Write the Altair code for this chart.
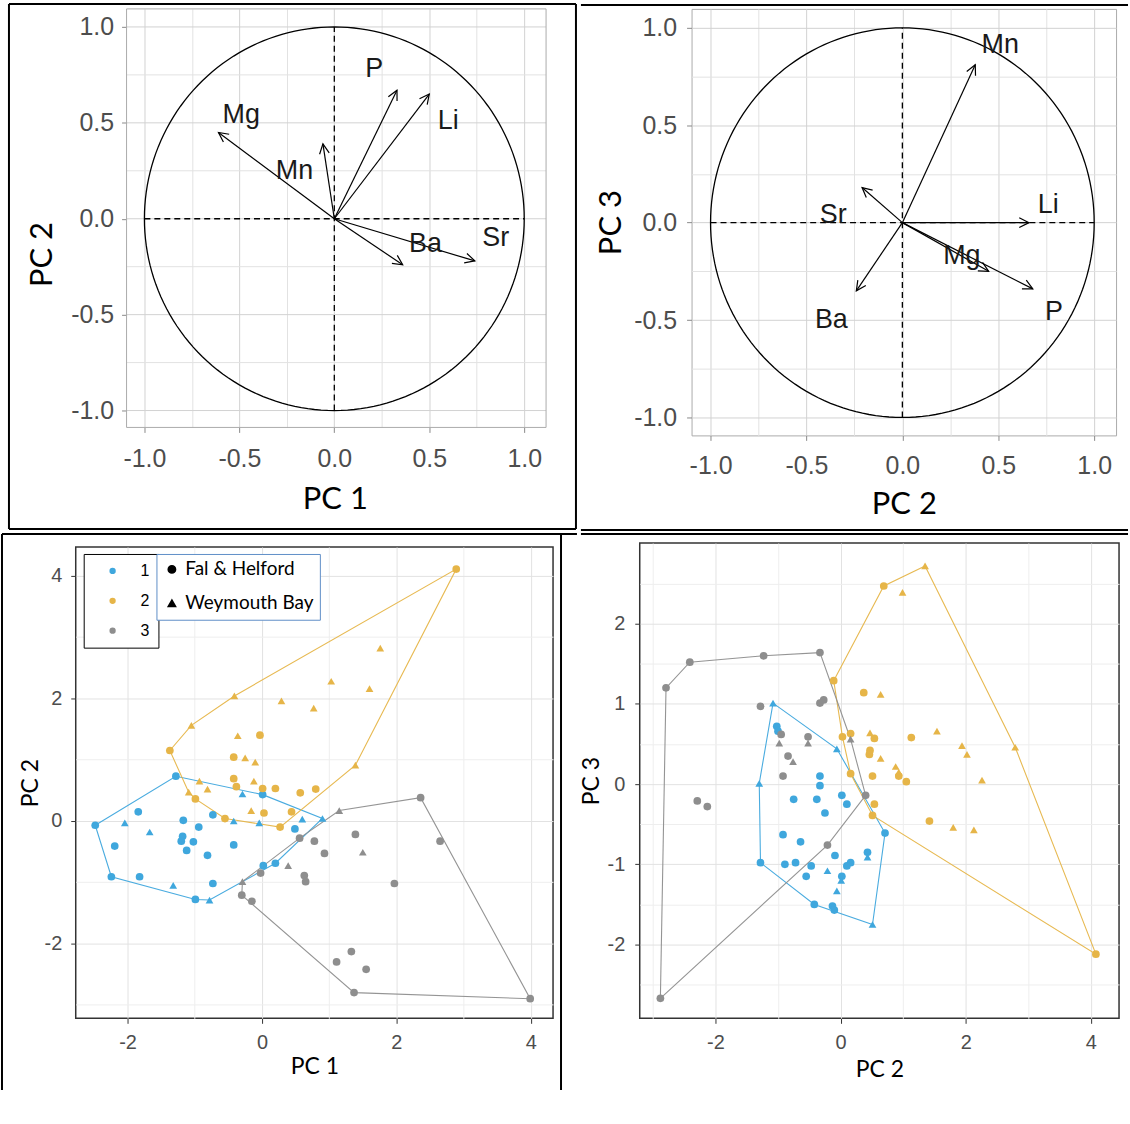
import altair as alt
import pandas as pd

# ---------------- data ----------------
A_VARS = ["Mg", "Mn", "P", "Li", "Ba", "Sr"]
A_PC1 = [-0.61, -0.06, 0.33, 0.50, 0.36, 0.74]
A_PC2 = [0.45, 0.39, 0.67, 0.65, -0.24, -0.22]
A_LAB_X = [-0.49, -0.21, 0.21, 0.60, 0.48, 0.85]
A_LAB_Y = [0.54, 0.25, 0.78, 0.51, -0.13, -0.10]

B_VARS = ["Mn", "Sr", "Li", "Mg", "P", "Ba"]
B_PC2 = [0.38, -0.21, 0.66, 0.45, 0.68, -0.24]
B_PC3 = [0.81, 0.18, 0.00, -0.25, -0.34, -0.35]
B_LAB_X = [0.51, -0.36, 0.76, 0.31, 0.79, -0.37]
B_LAB_Y = [0.91, 0.04, 0.09, -0.17, -0.46, -0.50]

CLUSTERS = ["1", "2", "3"]
HULL_KEYS = ["h1", "h2", "h3"]
SITES = ["Fal & Helford", "Weymouth Bay"]

C1_CIRC_X = [-2.48, -2.24, -2.19, -1.84, -1.82, -1.28, -1.17, -1.18, -1.20, -1.12, -1.02, -0.94, -0.99, -0.81, -0.73, -0.73, -0.42, 0.01, 0.02, 0.20, 0.49]
C1_CIRC_Y = [-0.07, -0.91, -0.41, 0.15, -0.91, 0.73, 0.01, -0.25, -0.33, -0.48, -0.34, -0.10, -1.28, -0.56, 0.10, -1.02, -0.39, 0.43, -0.73, -0.69, -0.13]
C1_TRI_X = [-2.04, -1.67, -1.32, -0.78, -0.42, -0.29, -0.04, 0.60, 0.90]
C1_TRI_Y = [-0.03, -0.18, -1.05, -1.29, 0.00, 0.44, -0.03, 0.03, 0.04]
C2_CIRC_X = [-1.37, -0.99, -0.55, -0.42, -0.42, -0.38, -0.03, 0.01, 0.03, 0.20, 0.27, 0.44, 0.57, 0.80, 2.89]
C2_CIRC_Y = [1.15, 0.36, 0.04, 1.04, 0.69, 0.56, 1.40, 0.53, 0.13, 0.53, -0.10, 0.15, 0.46, 0.52, 4.11]
C2_TRI_X = [-1.05, -1.09, -0.93, -0.81, -0.41, -0.36, -0.25, -0.10, -0.12, -0.16, 0.29, 0.77, 1.03, 1.60, 1.76, 1.39]
C2_TRI_Y = [1.56, 0.47, 0.65, 0.52, 2.04, 1.39, 1.03, 0.96, 0.65, 0.17, 1.96, 1.84, 2.28, 2.16, 2.82, 0.91]
C3_CIRC_X = [0.56, 0.78, 0.93, 0.63, 0.65, -0.02, -0.30, -0.15, 1.39, 2.36, 2.65, 1.97, 1.11, 1.33, 1.55, 1.37, 3.99]
C3_CIRC_Y = [-0.28, -0.33, -0.53, -0.89, -0.99, -0.85, -1.21, -1.31, -0.22, 0.38, -0.33, -1.02, -2.30, -2.13, -2.42, -2.80, -2.90]
C3_TRI_X = [-0.29, 0.39, 1.15, 1.50]
C3_TRI_Y = [-0.99, -0.73, 0.17, -0.51]

D1_CIRC_X = [-1.02, -1.00, -0.33, -0.33, -0.75, -0.38, 0.02, 0.10, -0.25, -0.92, -0.64, -1.28, -0.89, -0.72, -0.47, -0.55, -0.09, 0.16, 0.10, 0.02, -0.42, -0.13, -0.10, 0.43, 0.71]
D1_CIRC_Y = [0.72, 0.66, 0.10, -0.02, -0.19, -0.19, -0.14, -0.25, -0.36, -0.63, -0.72, -0.98, -1.00, -0.98, -1.02, -1.15, -0.89, -0.98, -1.02, -1.15, -1.50, -1.52, -1.57, -0.85, -0.61]
D1_TRI_X = [-1.08, -1.30, -0.06, 0.43, -0.21, 0.01, -0.06, 0.51]
D1_TRI_Y = [1.01, 0.01, 0.44, -0.91, -1.08, -1.20, -1.33, -1.75]
D2_CIRC_X = [0.69, -0.11, 0.37, 0.03, 0.16, 0.54, 0.47, 0.46, 1.13, 0.16, 0.51, 0.93, 1.05, 0.54, 0.51, 1.42, 4.08]
D2_CIRC_Y = [2.47, 1.29, 1.14, 0.59, 0.63, 0.57, 0.42, 0.37, 0.58, 0.13, 0.10, 0.10, 0.03, -0.25, -0.39, -0.46, -2.12]
D2_TRI_X = [1.35, 0.99, 0.64, 0.47, 1.54, 1.94, 2.02, 2.79, 0.64, 0.88, 0.93, 2.26, 1.80, 2.13]
D2_TRI_Y = [2.72, 2.39, 1.12, 0.64, 0.66, 0.48, 0.37, 0.46, 0.32, 0.22, 0.15, 0.05, -0.54, -0.57]
D3_CIRC_X = [-2.88, -2.79, -2.41, -1.23, -0.33, -1.28, -0.33, -0.27, -0.95, -0.52, -0.84, -0.92, -2.29, -2.13, 0.40, -0.21]
D3_CIRC_Y = [-2.67, 1.20, 1.52, 1.60, 1.64, 0.97, 1.01, 1.05, 0.62, 0.59, 0.35, 0.10, -0.21, -0.28, -0.14, -0.76]
D3_TRI_X = [-0.98, -0.52, -0.76, 0.16]
D3_TRI_Y = [0.51, 0.51, 0.28, 0.56]

TOP_TICKS = [-1.0, -0.75, -0.5, -0.25, 0.0, 0.25, 0.5, 0.75, 1.0]
C_X_TICKS = [-2, -1, 0, 1, 2, 3, 4]
C_Y_TICKS = [-3, -2, -1, 0, 1, 2, 3, 4]
D_X_TICKS = [-3, -2, -1, 0, 1, 2, 3, 4]
D_Y_TICKS = [-2.5, -2, -1.5, -1, -0.5, 0, 0.5, 1, 1.5, 2, 2.5]

CL_COLORS = ["#3FA7DD", "#E6B548", "#8E8E8E"]

# ---------------- helpers ----------------
ONE = pd.DataFrame({"k": [0]})
ARROW = "M-0.5,1L0,0L0.5,1"


def prule(x1, y1, x2, y2, w=2.0):
    return alt.Chart(ONE).mark_rule(color="black", strokeWidth=w, strokeCap="butt").encode(
        x=alt.value(x1), x2=alt.value(x2), y=alt.value(y1), y2=alt.value(y2))


def make_axis(title, values, major_test, label_expr, tick_col, grid_major, grid_minor,
              label_size, label_pad, title_size, title_pad, is_y, grid=True, offset=0,
              title_xy=None):
    kw = dict(
        title=title, values=values, labelExpr=label_expr,
        tickColor={"condition": {"test": major_test, "value": tick_col}, "value": "transparent"},
        grid=grid, domain=False, tickSize=5, tickWidth=1,
        labelFont="Liberation Sans", labelFontSize=label_size, labelColor="#4d4d4d",
        labelPadding=label_pad, labelOverlap=False, labelFlush=False,
        titleFont="Lato", titleFontSize=title_size, titleColor="black", titleFontWeight="normal",
        titlePadding=title_pad,
    )
    if grid:
        kw["gridColor"] = {"condition": {"test": major_test, "value": grid_major},
                           "value": grid_minor}
        kw["gridWidth"] = 1
    if offset:
        kw["offset"] = offset
    if title_xy is not None:
        kw["titleX"] = title_xy[0]
        kw["titleY"] = title_xy[1]
        kw["titleAlign"] = "center"
        kw["titleBaseline"] = "middle"
        if is_y:
            kw["titleAngle"] = 270
    if not is_y:
        kw["labelBaseline"] = "middle"
    return alt.Axis(**kw)


TOP_TEST = "abs(datum.value*2 - round(datum.value*2)) < 0.001"
TOP_LABEL = TOP_TEST + " ? (datum.value < 0 ? '-' : '') + format(abs(datum.value), '.1f') : ''"
EVEN_TEST = "abs(datum.value % 2) < 0.001"
EVEN_LABEL = EVEN_TEST + " ? (datum.value < 0 ? '-' : '') + format(abs(datum.value), 'd') : ''"
INT_TEST = "abs(datum.value - round(datum.value)) < 0.001"
INT_LABEL = INT_TEST + " ? (datum.value < 0 ? '-' : '') + format(abs(datum.value), 'd') : ''"


def loading_panel(vars_, xs, ys, lx, ly, xdom, ydom, w, h, xt, yt, xtpad, ytpad,
                  xpad, ypad, frames, ext=0, xtitle_xy=None, ytitle_xy=None):
    df = pd.DataFrame({"v": vars_, "xe": xs, "ye": ys, "lx": lx, "ly": ly})
    # ext: blank pixels added on the left of the view (axis is shifted back by ext)
    x_lo = xdom[0] - ext * (xdom[1] - xdom[0]) / w
    xsc = alt.Scale(domain=[x_lo, xdom[1]], nice=False, zero=False)
    ysc = alt.Scale(domain=ydom, nice=False, zero=False)
    xax = make_axis(xt, TOP_TICKS, TOP_TEST, TOP_LABEL, "#8a8a8a", "#d2d2d2", "#e2e2e2",
                    25, xpad, 31, xtpad, False, title_xy=xtitle_xy)
    yax = make_axis(yt, TOP_TICKS, TOP_TEST, TOP_LABEL, "#8a8a8a", "#d2d2d2", "#e2e2e2",
                    25, ypad, 31, ytpad, True, grid=(ext == 0), offset=-ext,
                    title_xy=ytitle_xy)

    def X(f):
        return alt.X(f, type="quantitative", scale=xsc, axis=xax)

    def Y(f):
        return alt.Y(f, type="quantitative", scale=ysc, axis=yax)

    layers = list(frames)
    if ext:
        gdf = pd.DataFrame({"gy": TOP_TICKS, "gx1": [xdom[0]] * len(TOP_TICKS),
                            "gx2": [xdom[1]] * len(TOP_TICKS),
                            "major": [abs(v * 2 - round(v * 2)) < 1e-9 for v in TOP_TICKS]})
        layers.append(alt.Chart(gdf).mark_rule(strokeWidth=1).encode(
            x=X("gx1"), x2="gx2:Q", y=Y("gy"),
            color=alt.condition("datum.major", alt.value("#d2d2d2"), alt.value("#e2e2e2"))))
        bdf = pd.DataFrame({"bx1": [xdom[0]], "bx2": [xdom[1]],
                            "by1": [ydom[0]], "by2": [ydom[1]]})
        layers.append(alt.Chart(bdf).mark_rect(fillOpacity=0, stroke="#ababab",
                                                strokeWidth=1).encode(
            x=X("bx1"), x2="bx2:Q", y=Y("by1"), y2="by2:Q"))

    circle = alt.Chart(alt.sequence(0, 362, 2, as_="t")).transform_calculate(
        cx="cos(datum.t*PI/180)", cy="sin(datum.t*PI/180)"
    ).mark_line(color="black", strokeWidth=1.3).encode(x=X("cx"), y=Y("cy"), order="t:Q")

    vdash = alt.Chart(ONE).transform_calculate(a="0", b="-1", c="1").mark_rule(
        color="black", strokeWidth=1.3, strokeDash=[6, 4]).encode(x=X("a"), y=Y("b"), y2="c:Q")
    hdash = alt.Chart(ONE).transform_calculate(a="0", b="-1", c="1").mark_rule(
        color="black", strokeWidth=1.3, strokeDash=[6, 4]).encode(x=X("b"), x2="c:Q", y=Y("a"))

    arrows = alt.Chart(df).transform_calculate(o="0").mark_rule(
        color="black", strokeWidth=1.2).encode(x=X("o"), y=Y("o"), x2="xe:Q", y2="ye:Q")
    heads = alt.Chart(df).transform_calculate(
        ang="(atan2(datum.xe, datum.ye)*180/PI + 360) % 360"
    ).mark_point(shape=ARROW, size=380, filled=False, color="black", strokeWidth=1.2,
                 opacity=1).encode(x=X("xe"), y=Y("ye"), angle=alt.Angle("ang:Q", scale=None))
    labels = alt.Chart(df).mark_text(
        font="Liberation Sans", fontSize=27, color="#1a1a1a", align="center", baseline="middle"
    ).encode(x=X("lx"), y=Y("ly"), text="v:N")

    layers += [circle, vdash, hdash, arrows, heads, labels]
    view = (alt.ViewBackground(stroke="transparent") if ext
            else alt.ViewBackground(stroke="#ababab", strokeWidth=1))
    return alt.layer(*layers).properties(width=w + ext, height=h, view=view)


def hull(xs, ys):
    pts = sorted(set(zip(xs, ys)))

    def cross(o, a, b):
        return (a[0] - o[0]) * (b[1] - o[1]) - (a[1] - o[1]) * (b[0] - o[0])

    lower, upper = [], []
    for p in pts:
        while len(lower) >= 2 and cross(lower[-2], lower[-1], p) <= 0:
            lower.pop()
        lower.append(p)
    for p in reversed(pts):
        while len(upper) >= 2 and cross(upper[-2], upper[-1], p) <= 0:
            upper.pop()
        upper.append(p)
    h = lower[:-1] + upper[:-1]
    return h + [h[0]]


def score_panel(groups, xdom, ydom, xvals, yvals, xtest, xlab, ytest, ylab, w, h,
                xt, yt, xtpad, ytpad, xpad, ypad, frames, with_legend):
    rows, hrows = [], []
    for k, (cl, cx, cy, tx_, ty_) in enumerate(groups):
        for x, y in zip(cx, cy):
            rows.append({"cluster": cl, "site": SITES[0], "x": x, "y": y})
        for x, y in zip(tx_, ty_):
            rows.append({"cluster": cl, "site": SITES[1], "x": x, "y": y})
        for i, (x, y) in enumerate(hull(list(cx) + list(tx_), list(cy) + list(ty_))):
            hrows.append({"grp": HULL_KEYS[k], "ord": i, "x": x, "y": y})
    df = pd.DataFrame(rows)
    hdf = pd.DataFrame(hrows)

    xsc = alt.Scale(domain=xdom, nice=False, zero=False)
    ysc = alt.Scale(domain=ydom, nice=False, zero=False)
    xax = make_axis(xt, xvals, xtest, xlab, "#333333", "#e2e2e2", "#eeeeee",
                    20, xpad, 23, xtpad, False)
    yax = make_axis(yt, yvals, ytest, ylab, "#333333", "#e2e2e2", "#eeeeee",
                    20, ypad, 23, ytpad, True)

    if with_legend:
        cleg = alt.Legend(title=None, orient="none", legendX=8, legendY=7, symbolType="circle",
                          symbolSize=40, labelFont="Liberation Sans", labelFontSize=16,
                          labelColor="black", padding=9, rowPadding=14, strokeColor="black",
                          fillColor="white", symbolOffset=12, labelOffset=20)
        sleg = alt.Legend(title=None, orient="none", legendX=81, legendY=7, symbolSize=55,
                          symbolFillColor="black", symbolStrokeColor="black", labelFont="Lato",
                          labelFontSize=19, labelColor="black", padding=6, rowPadding=14,
                          strokeColor="#5f8fc8", fillColor="white", labelOffset=4)
    else:
        cleg = None
        sleg = None

    hulls = alt.Chart(hdf).mark_line(strokeWidth=1.1, opacity=0.95).encode(
        x=alt.X("x:Q", scale=xsc, axis=xax), y=alt.Y("y:Q", scale=ysc, axis=yax),
        stroke=alt.Stroke("grp:N", scale=alt.Scale(domain=HULL_KEYS, range=CL_COLORS),
                          legend=None),
        order="ord:Q", detail="grp:N")
    points = alt.Chart(df).mark_point(filled=True, size=60, opacity=1).encode(
        x=alt.X("x:Q", scale=xsc, axis=xax), y=alt.Y("y:Q", scale=ysc, axis=yax),
        color=alt.Color("cluster:N", scale=alt.Scale(domain=CLUSTERS, range=CL_COLORS),
                        legend=cleg),
        shape=alt.Shape("site:N", scale=alt.Scale(domain=SITES, range=["circle", "triangle-up"]),
                        legend=sleg))
    return alt.layer(*frames, hulls, points).properties(
        width=w, height=h, view=alt.ViewBackground(stroke="#333333", strokeWidth=1.5))


# ---------------- panels ----------------
panel_a = loading_panel(
    A_VARS, A_PC1, A_PC2, A_LAB_X, A_LAB_Y, [-1.094, 1.115], [-1.088, 1.094], 421, 420,
    "PC 1", "PC 2", 12, 14, 26, 8,
    [prule(-67, -5, 502, -5), prule(-67, -5, -67, 522), prule(-67, 522, 502, 522),
     prule(502, -5, 502, 522)],
    ext=51, xtitle_xy=(260, 72), ytitle_xy=(-84, 246))

panel_b = loading_panel(
    B_VARS, B_PC2, B_PC3, B_LAB_X, B_LAB_Y, [-1.099, 1.114], [-1.092, 1.097], 426, 428,
    "PC 2", "PC 3", 11, 6, 25, 10,
    [prule(-111, -4, 438, -4), prule(-111, 523, 438, 523)])

panel_c = score_panel(
    [("1", C1_CIRC_X, C1_CIRC_Y, C1_TRI_X, C1_TRI_Y),
     ("2", C2_CIRC_X, C2_CIRC_Y, C2_TRI_X, C2_TRI_Y),
     ("3", C3_CIRC_X, C3_CIRC_Y, C3_TRI_X, C3_TRI_Y)],
    [-2.77, 4.33], [-3.22, 4.47], C_X_TICKS, C_Y_TICKS, EVEN_TEST, EVEN_LABEL,
    EVEN_TEST, EVEN_LABEL, 479, 473, "PC 1", "PC 2", 3, 2, 19, 9,
    [prule(-74, -13, 503, -13), prule(-74, -13, -74, 545), prule(487, -13, 487, 545)], True)

panel_d = score_panel(
    [("1", D1_CIRC_X, D1_CIRC_Y, D1_TRI_X, D1_TRI_Y),
     ("2", D2_CIRC_X, D2_CIRC_Y, D2_TRI_X, D2_TRI_Y),
     ("3", D3_CIRC_X, D3_CIRC_Y, D3_TRI_X, D3_TRI_Y)],
    [-3.21, 4.45], [-2.92, 3.006], D_X_TICKS, D_Y_TICKS, EVEN_TEST, EVEN_LABEL,
    INT_TEST, INT_LABEL, 481, 477, "PC 2", "PC 3", 6, 4, 19, 10,
    [prule(-59, -9, 490, -9)], False)

RES = dict(x="independent", y="independent", color="independent", shape="independent",
           stroke="independent")

chart = alt.concat(panel_a, panel_b, panel_c, panel_d, columns=2, spacing=0, align="none",
                   bounds="full").resolve_scale(**RES).resolve_legend(
    color="independent", shape="independent").properties(padding=0, background="white")

chart.save("out.html", embed_options={"renderer": "svg", "actions": False})
